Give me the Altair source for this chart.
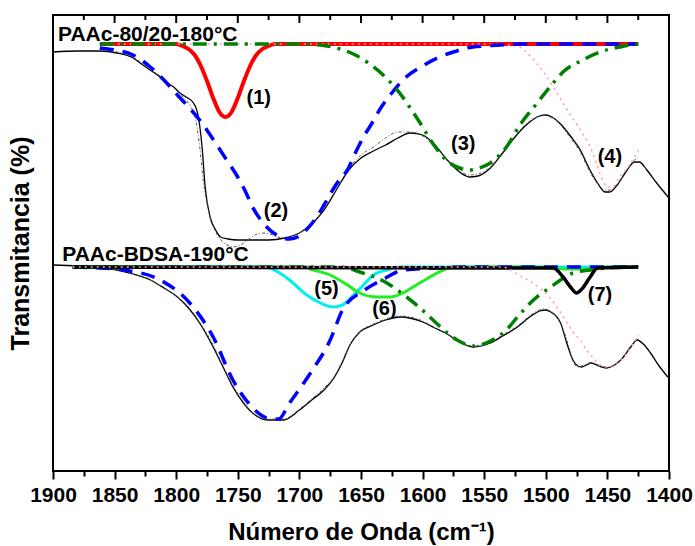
import altair as alt
import pandas as pd

# ---------------- data ----------------
tick_values = [1900, 1875, 1850, 1825, 1800, 1775, 1750, 1725, 1700, 1675, 1650,
               1625, 1600, 1575, 1550, 1525, 1500, 1475, 1450, 1425, 1400]

# PAAc-80/20-180°C (upper spectrum)
top_exp_wn = [1900, 1880, 1862, 1848, 1835, 1827, 1820, 1813, 1807, 1802, 1797, 1792, 1786, 1782,
              1779, 1776.5, 1772.5, 1768, 1764, 1758, 1750, 1740, 1725, 1712, 1700, 1690, 1680,
              1670, 1660, 1650, 1640, 1630, 1620, 1610, 1600, 1590, 1580, 1570, 1562, 1555, 1545,
              1535, 1525, 1515, 1505, 1500, 1495, 1488, 1480, 1472, 1465, 1458, 1452, 1448, 1442,
              1435, 1428, 1424, 1418, 1410, 1400]
top_exp_T = [419, 420, 420, 418, 413, 406, 400, 394, 388, 384, 378, 374, 368, 354,
             324, 284, 254, 241, 234, 232, 231, 231, 231, 233, 238, 247, 261,
             281, 301, 313, 320, 326, 333, 338, 336, 326, 311, 299, 294, 295, 303,
             318, 334, 347, 355, 356, 354, 347, 335, 321, 303, 288, 279, 279, 286,
             299, 309, 309, 301, 288, 273]

top_fit_wn = [1862, 1848, 1835, 1827, 1820, 1813, 1807, 1802, 1797, 1792, 1788, 1784, 1781, 1778,
              1774, 1770, 1765, 1760, 1754, 1748, 1742, 1736, 1730, 1724, 1718, 1710, 1700, 1690,
              1680, 1670, 1660, 1650, 1640, 1630, 1620, 1610, 1600, 1590, 1580, 1570, 1562, 1555,
              1545, 1535, 1525, 1515, 1505, 1500, 1495, 1488, 1480, 1472, 1465, 1458, 1452, 1448,
              1442, 1435, 1428, 1425]
top_fit_T = [422, 419, 414, 407, 401, 395, 389, 383, 377, 371, 364, 350, 325, 290,
             262, 245, 233, 227, 224, 226, 231, 236, 238, 237, 234, 233, 238, 247,
             262, 282, 302, 316, 324, 333, 339, 339, 335, 325, 311, 300, 296, 297,
             304, 319, 335, 348, 355, 356, 353, 346, 333, 319, 301, 287, 281, 281,
             287, 300, 311, 313]

top_p1_wn = [1862, 1800, 1795, 1790, 1785, 1780, 1775, 1770, 1765, 1760, 1755, 1750, 1745, 1740,
             1735, 1730, 1725, 1720, 1425]
top_p1_T = [427, 427, 425, 422, 416, 405, 390, 373, 359, 354, 359, 373, 390, 405,
            416, 422, 425, 427, 427]

top_p2_wn = [1862, 1850, 1835, 1821, 1810, 1799, 1790, 1781, 1774, 1767, 1759, 1751, 1744, 1738,
             1728, 1717, 1708, 1700, 1693, 1686, 1680, 1673, 1667, 1661, 1655, 1648, 1641, 1635,
             1625, 1616, 1600, 1588, 1575, 1564, 1550, 1537, 1520, 1505, 1425]
top_p2_T = [423, 421, 416, 404, 391, 376, 364, 351, 339, 326, 311, 296, 280, 264,
            246, 235, 232, 235, 243, 254, 266, 281, 292, 301, 317, 334, 348, 361,
            378, 391, 405, 413, 419, 423, 425, 426, 427, 427, 427]

top_p3_wn = [1862, 1700, 1683, 1673, 1667, 1660, 1653, 1643, 1632, 1618, 1610, 1602, 1592, 1578,
             1570, 1562, 1554, 1545, 1532, 1521, 1507, 1494, 1486, 1470, 1456, 1440, 1432, 1425]
top_p3_T = [427, 427, 426, 424, 422, 419, 415, 407, 396, 377, 363, 348, 328, 308,
            303, 301, 303, 308, 324, 346, 368, 388, 399, 411, 419, 424, 426, 427]

top_p4_wn = [1862, 1540, 1530, 1521, 1515, 1505, 1499, 1489, 1481, 1472, 1464, 1459, 1454, 1450,
             1446, 1440, 1432, 1425]
top_p4_T = [427, 427, 426, 424, 418, 404, 394, 374, 358, 341, 324, 308, 291, 284,
            284, 294, 306, 321]

# PAAc-BDSA-190°C (lower spectrum)
bot_exp_wn = [1900, 1880, 1860, 1848, 1835, 1821, 1810, 1799, 1790, 1781, 1770, 1762, 1754, 1746,
              1738, 1726, 1713, 1700, 1690, 1680, 1672, 1665, 1659, 1651, 1640, 1630, 1618, 1600,
              1590, 1580, 1570, 1559, 1545, 1535, 1523, 1512, 1505, 1500, 1496, 1491, 1488, 1483,
              1478, 1474, 1471, 1463, 1457, 1451, 1443, 1437, 1431, 1426, 1420, 1415, 1408, 1401]
bot_exp_T = [206, 205, 203, 201, 197, 191, 183, 174, 163, 148, 124, 104, 84, 69,
             58, 51, 51, 61, 71, 81, 93, 109, 126, 139, 146, 151, 154, 149,
             143, 137, 129, 124, 128, 135, 144, 155, 160, 161, 159, 154, 148, 128,
             111, 105, 104, 108, 105, 103, 107, 114, 124, 131, 126, 118, 105, 94]

bot_fit_wn = [1884, 1862, 1848, 1835, 1821, 1810, 1799, 1790, 1781, 1770, 1762, 1754, 1746, 1738,
              1726, 1713, 1700, 1690, 1680, 1672, 1665, 1659, 1651, 1640, 1630, 1618, 1600, 1590,
              1580, 1570, 1559, 1545, 1535, 1523, 1512, 1502, 1496, 1491, 1486, 1482, 1478, 1474,
              1469, 1464, 1457, 1450, 1443, 1437, 1431, 1425]
bot_fit_T = [204, 203, 201, 197, 191, 183, 174, 164, 149, 126, 105, 86, 70, 58,
             52, 52, 62, 72, 83, 94, 110, 126, 139, 147, 152, 155, 150, 143,
             137, 129, 125, 129, 136, 145, 156, 162, 160, 154, 142, 127, 110, 104,
             106, 108, 106, 104, 107, 115, 125, 134]

bot_p2_wn = [1884, 1862, 1843, 1813, 1789, 1770, 1754, 1740, 1726, 1717, 1708, 1691, 1675, 1665,
             1647, 1630, 1616, 1590, 1560, 1425]
bot_p2_T = [204, 203, 201, 191, 168, 134, 91, 66, 53, 52, 68, 98, 131, 161,
            181, 193, 201, 203, 204, 204]

bot_p5_wn = [1884, 1730, 1724, 1716, 1708, 1694, 1683, 1673, 1665, 1656, 1648, 1640, 1629, 1618, 1425]
bot_p5_T = [204, 204, 203, 198, 191, 176, 168, 164, 166, 176, 186, 196, 201, 204, 204]

bot_p6_wn = [1884, 1695, 1691, 1675, 1661, 1651, 1637, 1626, 1616, 1605, 1594, 1583, 1575, 1510,
             1495, 1480, 1470, 1458, 1445, 1425]
bot_p6_T = [204, 204, 202, 196, 186, 178, 174, 174, 178, 186, 194, 201, 204, 204,
            203, 202, 202, 203, 204, 204]

bot_p3_wn = [1884, 1667, 1651, 1629, 1613, 1602, 1589, 1572, 1559, 1545, 1532, 1523, 1510, 1496,
             1478, 1464, 1450, 1425]
bot_p3_T = [204, 204, 199, 188, 174, 163, 148, 131, 125, 130, 141, 154, 171, 184,
            198, 201, 203, 204]

bot_p4_wn = [1884, 1535, 1530, 1522, 1513, 1505, 1497, 1491, 1483, 1478, 1472, 1467, 1462, 1456,
             1450, 1442, 1434, 1425]
bot_p4_T = [204, 204, 202, 196, 190, 183, 174, 164, 149, 139, 131, 121, 114, 106,
            104, 109, 118, 136]

bot_p7_wn = [1884, 1494, 1486, 1480, 1475, 1470, 1464, 1458, 1425]
bot_p7_T = [204, 203, 194, 184, 178, 183, 194, 203, 204]

sample_text = ["PAAc-80/20-180°C", "PAAc-BDSA-190°C"]
sample_wn = [1896, 1892.5]
sample_T = [436, 216]

peak_text = ["(1)", "(2)", "(3)", "(4)", "(5)", "(6)", "(7)"]
peak_wn = [1733, 1719, 1567, 1448, 1678, 1631, 1456]
peak_T = [373, 260, 327, 314, 182, 162, 176]

# ---------------- chart ----------------
FONT = "Liberation Sans"
x_scale = alt.Scale(domain=[1900, 1400], nice=False, zero=False)
y_scale = alt.Scale(domain=[0, 456], nice=False, zero=False)

major_test = "datum.value % 50 === 0"

bottom_axis = alt.Axis(
    orient="bottom", values=tick_values, format="d",
    labelExpr="datum.value % 50 === 0 ? datum.label : ''",
    tickSize={"condition": {"test": major_test, "value": 8}, "value": 5},
    tickColor="black", tickWidth=2, domain=False, grid=False,
    labelFont=FONT, labelFontWeight="bold", labelFontSize=21, labelColor="black",
    labelPadding=5, labelFlush=False, labelOverlap=False,
    title="Número de Onda (cm⁻¹)", titleFont=FONT, titleFontSize=24,
    titleFontWeight="bold", titleColor="black", titlePadding=15,
)
y_axis = alt.Axis(
    labels=False, ticks=False, domain=False, grid=False,
    title="Transmitancia (%)", titleFont=FONT, titleFontSize=25,
    titleFontWeight="bold", titleColor="black", titlePadding=20,
)


def curve(wn, T, color, width, dash=None, xaxis=None, yaxis=None):
    df = pd.DataFrame({"wn": wn, "T": T})
    kw = dict(color=color, strokeWidth=width, interpolate="monotone", clip=True)
    if dash is not None:
        kw["strokeDash"] = dash
    return alt.Chart(df).mark_line(**kw).encode(
        x=alt.X("wn:Q", scale=x_scale, axis=xaxis),
        y=alt.Y("T:Q", scale=y_scale, axis=yaxis),
    )


# inward ticks along the top frame (mirror of the bottom axis ticks)
ticks_df = pd.DataFrame({"v": tick_values})
top_major = alt.Chart(ticks_df).transform_filter("datum.v % 50 === 0").mark_rule(
    color="black", strokeWidth=2
).encode(x=alt.X("v:Q", scale=x_scale, axis=None), y=alt.value(0), y2=alt.value(8))
top_minor = alt.Chart(ticks_df).transform_filter("datum.v % 50 !== 0").mark_rule(
    color="black", strokeWidth=2
).encode(x=alt.X("v:Q", scale=x_scale, axis=None), y=alt.value(0), y2=alt.value(5))

layers = [
    curve(top_exp_wn, top_exp_T, "black", 1.3, xaxis=bottom_axis, yaxis=y_axis),
    curve(top_fit_wn, top_fit_T, "#555555", 1, [3, 2, 1, 2]),
    curve(top_p1_wn, top_p1_T, "#ff0000", 4),
    curve(top_p4_wn, top_p4_T, "#ff99cc", 1.6, [2, 4]),
    curve(top_p2_wn, top_p2_T, "#0000ff", 3.5, [14, 9]),
    curve(top_p3_wn, top_p3_T, "#008000", 3.5, [14, 7, 3, 7]),
    curve(bot_exp_wn, bot_exp_T, "black", 1.3),
    curve(bot_fit_wn, bot_fit_T, "#555555", 1, [3, 2, 1, 2]),
    curve(bot_p5_wn, bot_p5_T, "#00f0f0", 3),
    curve(bot_p6_wn, bot_p6_T, "#22ee22", 3),
    curve(bot_p2_wn, bot_p2_T, "#0000ff", 3.5, [14, 9]),
    curve(bot_p3_wn, bot_p3_T, "#008000", 3.5, [14, 7, 3, 7]),
    curve(bot_p7_wn, bot_p7_T, "black", 3.5),
    curve(bot_p4_wn, bot_p4_T, "#ff99cc", 1.6, [2, 4]),
    top_major,
    top_minor,
]

samples = alt.Chart(pd.DataFrame({"wn": sample_wn, "T": sample_T, "t": sample_text})).mark_text(
    font=FONT, fontWeight="bold", fontSize=21, align="left", baseline="middle", color="black"
).encode(
    x=alt.X("wn:Q", scale=x_scale, axis=None),
    y=alt.Y("T:Q", scale=y_scale, axis=None),
    text="t:N",
)
peaks = alt.Chart(pd.DataFrame({"wn": peak_wn, "T": peak_T, "t": peak_text})).mark_text(
    font=FONT, fontWeight="bold", fontSize=20, align="center", baseline="middle", color="black"
).encode(
    x=alt.X("wn:Q", scale=x_scale, axis=None),
    y=alt.Y("T:Q", scale=y_scale, axis=None),
    text="t:N",
)

chart = alt.layer(*layers, samples, peaks).resolve_axis(
    x="independent", y="independent"
).properties(
    width=616, height=456,
    autosize=alt.AutoSizeParams(type="none"),
    padding={"left": 53, "top": 15, "right": 26, "bottom": 75},
    background="white",
).configure_view(stroke="black", strokeWidth=2)

chart.save("out.html", embed_options={"renderer": "svg", "actions": False})
